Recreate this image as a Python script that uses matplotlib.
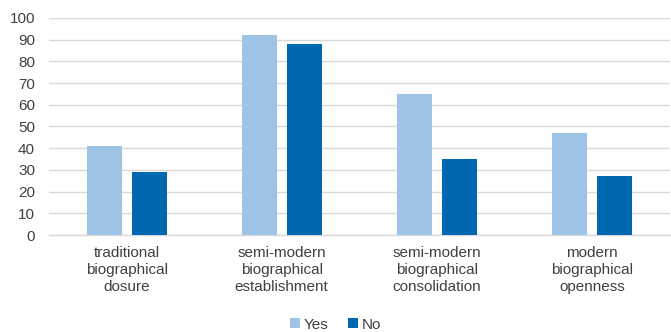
import numpy as np
import matplotlib.pyplot as plt

plt.rcParams['font.family'] = ['Liberation Sans', 'DejaVu Sans']

categories = ["traditional\nbiographical\ndosure",
              "semi-modern\nbiographical\nestablishment",
              "semi-modern\nbiographical\nconsolidation",
              "modern\nbiographical\nopenness"]
yes_vals = [41, 92, 65, 47]
no_vals = [29, 88, 35, 27]

yes_color = "#9DC3E6"
no_color = "#0068B1"
text_color = "#404040"
grid_color = "#D9D9D9"

fig = plt.figure(figsize=(6.71, 3.32), dpi=100)
ax = fig.add_axes([0.073, 0.292, 0.925, 0.654])

x = np.arange(len(categories))
w = 0.226
ax.bar(x - 0.145, yes_vals, w, color=yes_color, label="Yes", zorder=3)
ax.bar(x + 0.145, no_vals, w, color=no_color, label="No", zorder=3)

ax.set_xlim(-0.5, len(categories) - 0.5)
ax.set_ylim(0, 100)
ax.set_yticks(range(0, 101, 10))
ax.yaxis.grid(True, color=grid_color, linewidth=1.0, zorder=0)
ax.set_axisbelow(True)

for s in ["top", "right", "left"]:
    ax.spines[s].set_visible(False)
ax.spines["bottom"].set_color(grid_color)
ax.spines["bottom"].set_linewidth(1.0)

ax.set_xticks(x)
ax.set_xticklabels(categories, fontsize=11, color=text_color, linespacing=1.25)
ax.tick_params(axis="x", length=0, pad=8)
ax.tick_params(axis="y", length=0, labelsize=11, labelcolor=text_color, pad=10)

fig.legend(loc="lower center", bbox_to_anchor=(0.5, -0.04), ncol=2, frameon=False,
           fontsize=11, handlelength=0.65, handleheight=0.65, handletextpad=0.25,
           columnspacing=1.3, labelcolor=text_color)

fig.savefig("out.png", dpi=100)
